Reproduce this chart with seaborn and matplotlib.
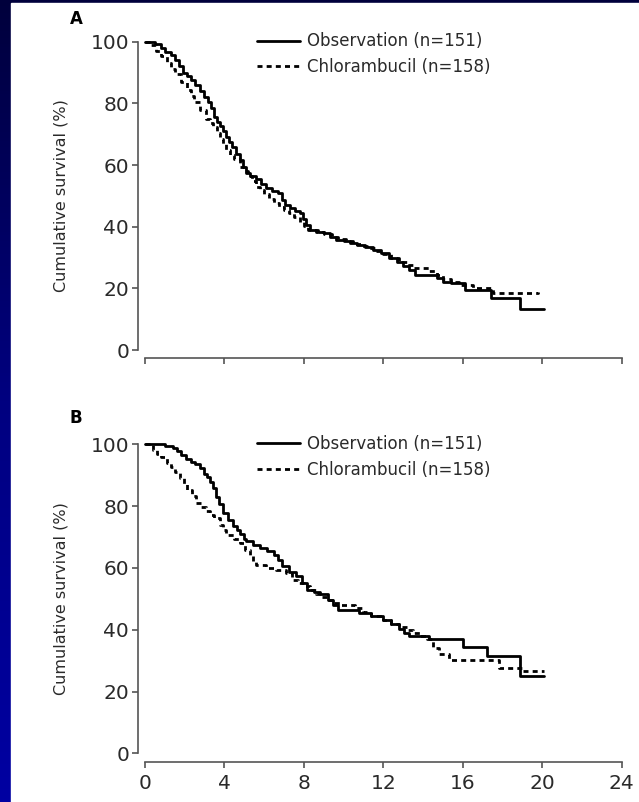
import numpy as np
import pandas as pd
import matplotlib
matplotlib.use("Agg")
import matplotlib.pyplot as plt
from matplotlib.patches import Rectangle
from matplotlib.colors import LinearSegmentedColormap
import seaborn as sns

# ---------------- data ----------------
arms = ["Observation (n=151)", "Chlorambucil (n=158)"]

a_obs_t = [0.0, 0.5, 0.8, 1.0, 1.3, 1.5, 1.7, 1.9, 2.1, 2.3, 2.55, 2.8, 3.0, 3.2, 3.35, 3.5,
           3.65, 3.8, 3.95, 4.1, 4.25, 4.4, 4.6, 4.8, 4.95, 5.1, 5.3, 5.6, 5.85, 6.1, 6.4,
           6.7, 6.9, 7.05, 7.3, 7.55, 7.8, 7.95, 8.1, 8.3, 8.7, 9.0, 9.3, 9.6, 10.0, 10.3,
           10.7, 11.1, 11.5, 11.9, 12.3, 12.7, 13.0, 13.3, 13.6, 14.7, 15.0, 15.4, 16.1,
           17.4, 18.9, 20.1]
a_obs_s = [100, 99.3, 98, 96.7, 95.7, 94, 92, 90, 88.8, 87.5, 85.8, 84, 82, 80.3, 78.5, 75.5,
           74, 72.5, 71, 69.2, 67.5, 66, 63.5, 61.7, 59.5, 57.3, 56.5, 55.5, 54, 52.5, 51.6,
           51.0, 48.5, 47, 46, 45.2, 44.4, 42.5, 40.5, 39, 38.3, 37.8, 36.8, 35.8, 35.2, 34.6,
           34, 33.5, 32.5, 31.4, 30.0, 28.6, 27.3, 26, 24.4, 23.2, 22.0, 21.6, 19.5,
           16.8, 13.2, 13.2]

a_chl_t = [0.0, 0.3, 0.55, 0.8, 1.1, 1.3, 1.5, 1.8, 2.1, 2.3, 2.5, 2.8, 3.1, 3.3, 3.45, 3.65,
           3.8, 3.95, 4.1, 4.3, 4.5, 4.8, 5.0, 5.2, 5.4, 5.6, 5.8, 6.0, 6.25, 6.5, 6.75, 7.0,
           7.25, 7.5, 7.8, 8.0, 8.2, 8.6, 9.0, 9.4, 9.7, 10.1, 10.5, 10.9, 11.2, 11.6, 12.0,
           12.4, 12.8, 13.2, 13.5, 14.3, 14.7, 15.0, 15.4, 15.8, 16.5, 17.5, 19.8]
a_chl_s = [100, 98.8, 97, 95.5, 93, 91.2, 89.5, 87, 84.3, 82.3, 80.5, 77.9, 75, 73.5, 72.4, 70.5,
           68.5, 66.7, 64.9, 63.4, 62, 59.5, 58, 56.5, 54.8, 53, 51.8, 50.5, 49, 47.6, 46.5, 45.5,
           44.4, 43.3, 41.5, 40.2, 39, 38.3, 37.5, 36.7, 36, 35.2, 34.5, 33.7, 33, 32, 31,
           29.8, 28.5, 27.5, 26.5, 25.5, 24.2, 23, 22, 21, 20, 18.5, 18.8]

b_obs_t = [0.0, 0.6, 1.0, 1.4, 1.6, 1.8, 2.05, 2.3, 2.55, 2.8, 3.0, 3.15, 3.3, 3.45, 3.6, 3.75,
           3.95, 4.2, 4.45, 4.65, 4.8, 5.0, 5.1, 5.45, 5.8, 6.15, 6.5, 6.7, 6.9, 7.25, 7.6,
           7.9, 8.15, 8.5, 8.8, 9.2, 9.45, 9.7, 10.8, 11.4, 12.0, 12.4, 12.8, 13.05, 13.3,
           14.3, 16.0, 17.2, 18.9, 20.1]
b_obs_s = [100, 100, 99.5, 98.7, 97.8, 96.5, 95.3, 94.4, 93.5, 92.3, 90.5, 89.3, 87.9, 85.7, 83.1, 80.7,
           77.7, 75.5, 73.4, 72.2, 71, 69.5, 68.6, 67.5, 66.5, 65.4, 64.3, 62.5, 60.5, 58.8, 57.3,
           55, 53, 52.3, 51.4, 49.5, 48, 46.5, 45.5, 44.5, 43.3, 41.7, 40.1, 39, 37.9,
           36.9, 34.5, 31.5, 25.0, 25.0]

b_chl_t = [0.0, 0.4, 0.6, 0.8, 1.1, 1.3, 1.5, 1.77, 1.95, 2.1, 2.35, 2.6, 2.85, 3.1, 3.3, 3.5,
           3.8, 3.95, 4.1, 4.5, 4.8, 5.05, 5.3, 5.45, 5.6, 6.1, 6.6, 7.1, 7.4, 7.7, 8.0,
           8.3, 8.6, 8.9, 9.2, 9.5, 9.8, 10.6, 11.0, 11.4, 12.0, 12.4, 12.8, 13.2, 13.5,
           13.85, 14.2, 14.5, 14.8, 15.3, 16.8, 17.8, 19.0, 20.1]
b_chl_s = [100, 98, 97, 96, 93.9, 92.5, 91, 89, 87.2, 85.3, 83.2, 81, 79.6, 78.3, 77.2, 76,
           74, 72.3, 70.7, 69.5, 68, 65.8, 63.7, 62.3, 61, 60, 59.4, 58.4, 56.2, 55, 54,
           52.7, 51.5, 50.5, 49.5, 48.7, 48, 47, 45.7, 44.5, 43, 42, 41, 39.8, 39,
           38, 37, 34.2, 32, 30.2, 30.2, 27.7, 26.5, 26.5]

x_ticks = [0, 4, 8, 12, 16, 20, 24]
y_ticks = [0, 20, 40, 60, 80, 100]
panel_letters = ["A", "B"]


def make_df(obs_t, obs_s, chl_t, chl_s):
    return pd.concat([
        pd.DataFrame({"month": obs_t, "survival": obs_s, "arm": arms[0]}),
        pd.DataFrame({"month": chl_t, "survival": chl_s, "arm": arms[1]}),
    ], ignore_index=True)


dfs = [make_df(a_obs_t, a_obs_s, a_chl_t, a_chl_s),
       make_df(b_obs_t, b_obs_s, b_chl_t, b_chl_s)]

# ---------------- style ----------------
sns.set_theme(style="ticks")
plt.rcParams["font.family"] = ["DejaVu Sans"]

W, H = 639, 802
fig = plt.figure(figsize=(W / 100, H / 100), dpi=100)

# dark blue gradient background + white slide area
bg = fig.add_axes([0, 0, 1, 1], zorder=-10)
grad = np.linspace(0, 1, 256).reshape(-1, 1)
cmap = LinearSegmentedColormap.from_list("bgblue", ["#00003c", "#000080", "#0000a2"])
bg.imshow(grad, aspect="auto", cmap=cmap, extent=[0, 1, 0, 1], origin="upper")
bg.add_patch(Rectangle((11 / W, 0), 1 - 11 / W, (H - 3) / H, color="white", transform=bg.transAxes))
bg.set_xlim(0, 1)
bg.set_ylim(0, 1)
bg.axis("off")

ax_rects = [
    [144.8 / W, (H - 350) / H, 477 / W, 308.3 / H],
    [144.8 / W, (H - 753.3) / H, 477 / W, 309 / H],
]
letter_pos = [(76, 19), (76, 418)]

gray = "#555555"
txt = "#2a2a2a"

for i, (df, rect) in enumerate(zip(dfs, ax_rects)):
    ax = fig.add_axes(rect)
    ax.set_facecolor("none")
    sns.lineplot(data=df, x="month", y="survival", style="arm", hue="arm",
                 palette={arms[0]: "black", arms[1]: "black"},
                 dashes={arms[0]: "", arms[1]: (1.8, 1.5)},
                 estimator=None, drawstyle="steps-post", linewidth=2.0,
                 ax=ax, clip_on=False)
    ax.set_xlim(0, 24)
    ax.set_ylim(0, 100)
    ax.set_xticks(x_ticks)
    ax.set_yticks(y_ticks)
    sns.despine(ax=ax, offset={"left": 4.7, "bottom": 6.0}, trim=True)
    for side in ["left", "bottom"]:
        ax.spines[side].set_color(gray)
        ax.spines[side].set_linewidth(1.2)
    ax.tick_params(axis="both", direction="out", length=4.5, width=1.2, color=gray,
                   labelsize=14.5, labelcolor=txt, pad=2)
    ax.tick_params(axis="x", pad=4.5)
    if i == 0:
        ax.set_xticklabels([])
    ax.set_xlabel("")
    ax.set_ylabel("Cumulative survival (%)", fontsize=11.5, color=txt)
    ax.yaxis.set_label_coords(-0.16, 0.5)

    handles, labels = ax.get_legend_handles_labels()
    leg = ax.legend(handles, labels, loc="upper left", bbox_to_anchor=(0.235, 1.03),
                    frameon=False, fontsize=12, handlelength=2.6, handletextpad=0.4,
                    labelspacing=0.45, borderpad=0, borderaxespad=0)
    for t in leg.get_texts():
        t.set_color(txt)

    fig.text(letter_pos[i][0] / W, 1 - letter_pos[i][1] / H, panel_letters[i],
             fontsize=12, fontweight="bold", color="black", ha="center", va="center")

fig.savefig("out.png", dpi=100)
